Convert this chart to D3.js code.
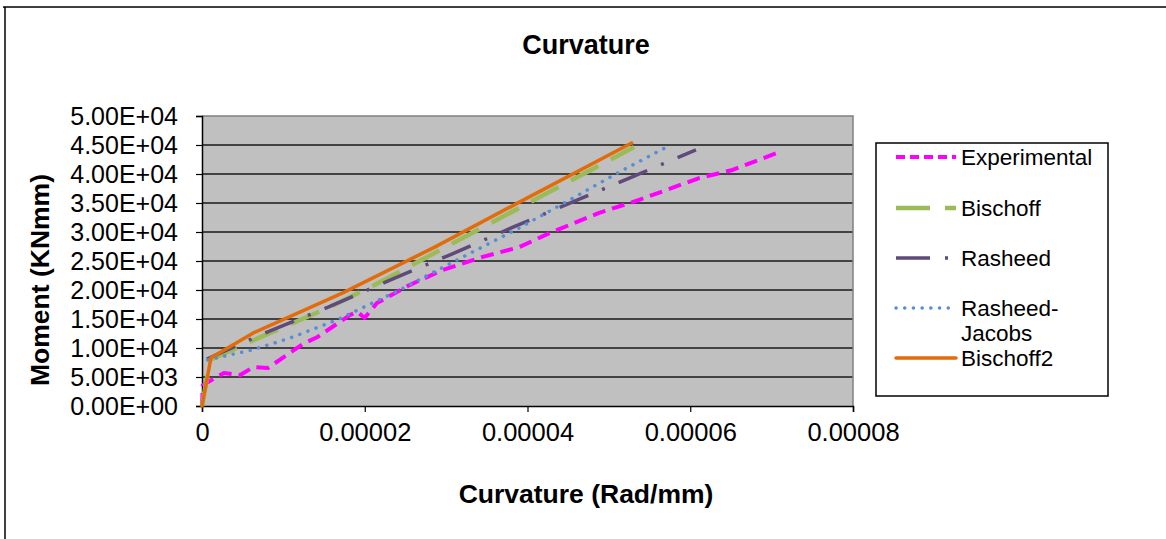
<!DOCTYPE html>
<html>
<head>
<meta charset="utf-8">
<script src="https://cdn.jsdelivr.net/npm/d3@7"></script>
<style>
  html, body { margin: 0; padding: 0; background: #fff; }
  svg { display: block; font-family: Arial, "Liberation Sans", sans-serif; }
</style>
</head>
<body>
<svg id="chart" width="1166" height="539"></svg>
<script>
// ---- data (curvature in rad/mm, moment in kN·mm) ----
const seriesNames = ["Experimental", "Bischoff", "Rasheed", "Rasheed-Jacobs", "Bischoff2"];

const experimental = [
  [0, 0], [0.0000001, 3600], [0.0000027, 5700], [0.0000047, 5350], [0.0000063, 6700],
  [0.0000081, 6550], [0.0000124, 10700], [0.0000142, 11900], [0.0000182, 15700],
  [0.0000191, 16200], [0.0000200, 15200], [0.0000215, 17750], [0.0000255, 20850],
  [0.0000296, 23450], [0.0000345, 25700], [0.0000390, 27400], [0.0000427, 29800],
  [0.0000488, 33300], [0.0000529, 35150], [0.0000571, 37250], [0.0000611, 39300],
  [0.0000652, 40700], [0.0000706, 43600]
];
const bischoff = [
  [0, 0], [0.0000010, 7950], [0.0000069, 11700], [0.0000157, 17050],
  [0.0000212, 20850], [0.0000369, 32600], [0.0000531, 44650]
];
const rasheed = [
  [0.0000006, 8100], [0.0000080, 12750], [0.0000155, 17050], [0.0000231, 21700],
  [0.0000307, 26200], [0.0000380, 30700], [0.0000455, 35150], [0.0000531, 39650],
  [0.0000607, 44150]
];
const rasheedJacobs = [
  [0.0000007, 7950], [0.0000061, 9650], [0.0000108, 11700], [0.0000166, 14850],
  [0.0000243, 20000], [0.0000313, 25150], [0.0000390, 30700], [0.0000436, 34300],
  [0.0000513, 40350], [0.0000571, 44650]
];
const bischoff2 = [
  [0, 0], [0.0000011, 8300], [0.0000063, 12600], [0.0000173, 19500],
  [0.0000286, 27400], [0.0000390, 35150], [0.0000528, 45350]
];

const xTicks = [0, 0.00002, 0.00004, 0.00006, 0.00008];
const xTickLabels = ["0", "0.00002", "0.00004", "0.00006", "0.00008"];
const yTicks = [0, 5000, 10000, 15000, 20000, 25000, 30000, 35000, 40000, 45000, 50000];
const yTickLabels = ["0.00E+00", "5.00E+03", "1.00E+04", "1.50E+04", "2.00E+04", "2.50E+04",
                     "3.00E+04", "3.50E+04", "4.00E+04", "4.50E+04", "5.00E+04"];

// ---- styles ----
const styles = {
  "Experimental":   { color: "#FF00FF", width: 4,   dash: "13,7",        cap: "butt" },
  "Bischoff":       { color: "#9BBB59", width: 4.5, dash: "31,14",       cap: "butt" },
  "Rasheed":        { color: "#604A7B", width: 3.5, dash: "31,15,3,15",  cap: "butt" },
  "Rasheed-Jacobs": { color: "#558ED5", width: 3.5, dash: "0.1,8.6",     cap: "round" },
  "Bischoff2":      { color: "#E36C0A", width: 3.5, dash: null,          cap: "round" }
};
const seriesData = [experimental, bischoff, rasheed, rasheedJacobs, bischoff2];

const svg = d3.select("#chart");
const plot = { left: 202, right: 853, top: 116, bottom: 406 };

const x = d3.scaleLinear().domain([0, 0.00008]).range([plot.left, plot.right]);
const y = d3.scaleLinear().domain([0, 50000]).range([plot.bottom, plot.top]);

// outer frame (top and left edges visible)
svg.append("line").attr("x1", 3).attr("x2", 1166).attr("y1", 7).attr("y2", 7)
  .attr("stroke", "#000").attr("stroke-width", 1.5);
svg.append("line").attr("x1", 5).attr("x2", 5).attr("y1", 7).attr("y2", 539)
  .attr("stroke", "#000").attr("stroke-width", 1.5);

// plot background
svg.append("rect")
  .attr("x", plot.left).attr("y", plot.top)
  .attr("width", plot.right - plot.left).attr("height", plot.bottom - plot.top)
  .attr("fill", "#C0C0C0");

// gridlines
svg.append("g").selectAll("line")
  .data(yTicks.filter(v => v > 0 && v < 50000))
  .join("line")
  .attr("x1", plot.left).attr("x2", plot.right)
  .attr("y1", d => y(d)).attr("y2", d => y(d))
  .attr("stroke", "#1a1a1a").attr("stroke-width", 1.3);

// plot border top/right (gray)
svg.append("path")
  .attr("d", `M${plot.left},${plot.top}H${plot.right}V${plot.bottom}`)
  .attr("fill", "none").attr("stroke", "#808080").attr("stroke-width", 1.5);

// axes
const yAxis = d3.axisLeft(y).tickValues(yTicks)
  .tickFormat((d, i) => yTickLabels[i]).tickSize(6).tickPadding(18);
const gy = svg.append("g").attr("transform", `translate(${plot.left},0)`).call(yAxis);
gy.select(".domain").attr("stroke", "#000").attr("stroke-width", 1.5);
gy.selectAll(".tick line").attr("stroke", "#000").attr("stroke-width", 1.2);
gy.selectAll("text").attr("font-size", 25).attr("fill", "#000")
  .attr("font-family", "Arial, 'Liberation Sans', sans-serif");

const xAxis = d3.axisBottom(x).tickValues(xTicks)
  .tickFormat((d, i) => xTickLabels[i]).tickSize(6).tickPadding(11);
const gx = svg.append("g").attr("transform", `translate(0,${plot.bottom})`).call(xAxis);
gx.select(".domain").attr("stroke", "#000").attr("stroke-width", 1.5);
gx.selectAll(".tick line").attr("stroke", "#000").attr("stroke-width", 1.2);
gx.selectAll("text").attr("font-size", 25.5).attr("fill", "#000")
  .attr("font-family", "Arial, 'Liberation Sans', sans-serif");

// lines
const line = d3.line().x(d => x(d[0])).y(d => y(d[1]));
seriesNames.forEach((name, i) => {
  const s = styles[name];
  svg.append("path")
    .datum(seriesData[i])
    .attr("d", line)
    .attr("fill", "none")
    .attr("stroke", s.color)
    .attr("stroke-width", s.width)
    .attr("stroke-dasharray", s.dash)
    .attr("stroke-linecap", s.cap)
    .attr("stroke-linejoin", "round");
});

// titles
svg.append("text").attr("x", 586).attr("y", 54).attr("text-anchor", "middle")
  .attr("font-size", 27).attr("font-weight", "bold").text("Curvature");
svg.append("text").attr("x", 586).attr("y", 503).attr("text-anchor", "middle")
  .attr("font-size", 26.5).attr("font-weight", "bold").text("Curvature (Rad/mm)");
svg.append("text")
  .attr("transform", "translate(49,280) rotate(-90)")
  .attr("text-anchor", "middle")
  .attr("font-size", 26.5).attr("font-weight", "bold").text("Moment (KNmm)");

// legend
const lg = svg.append("g");
lg.append("rect").attr("x", 876).attr("y", 143).attr("width", 232).attr("height", 253)
  .attr("fill", "#fff").attr("stroke", "#000").attr("stroke-width", 1.5);
const legendY = [157, 208, 258, 308, 358];
seriesNames.forEach((name, i) => {
  const s = styles[name];
  const ly = legendY[i];
  lg.append("line").attr("x1", 896).attr("x2", 956).attr("y1", ly).attr("y2", ly)
    .attr("stroke", s.color).attr("stroke-width", s.width)
    .attr("stroke-dasharray", name === "Experimental" ? "9,5" :
          name === "Bischoff" ? "34,15" :
          name === "Rasheed" ? "34,15,3,20" : s.dash)
    .attr("stroke-linecap", s.cap);
  if (name === "Rasheed-Jacobs") {
    const t = lg.append("text").attr("x", 961).attr("y", ly + 8).attr("font-size", 22.5);
    t.append("tspan").attr("x", 961).text("Rasheed-");
    t.append("tspan").attr("x", 961).attr("dy", 25).text("Jacobs");
  } else {
    lg.append("text").attr("x", 961).attr("y", ly + 8).attr("font-size", 22.5).text(name);
  }
});
</script>
</body>
</html>
